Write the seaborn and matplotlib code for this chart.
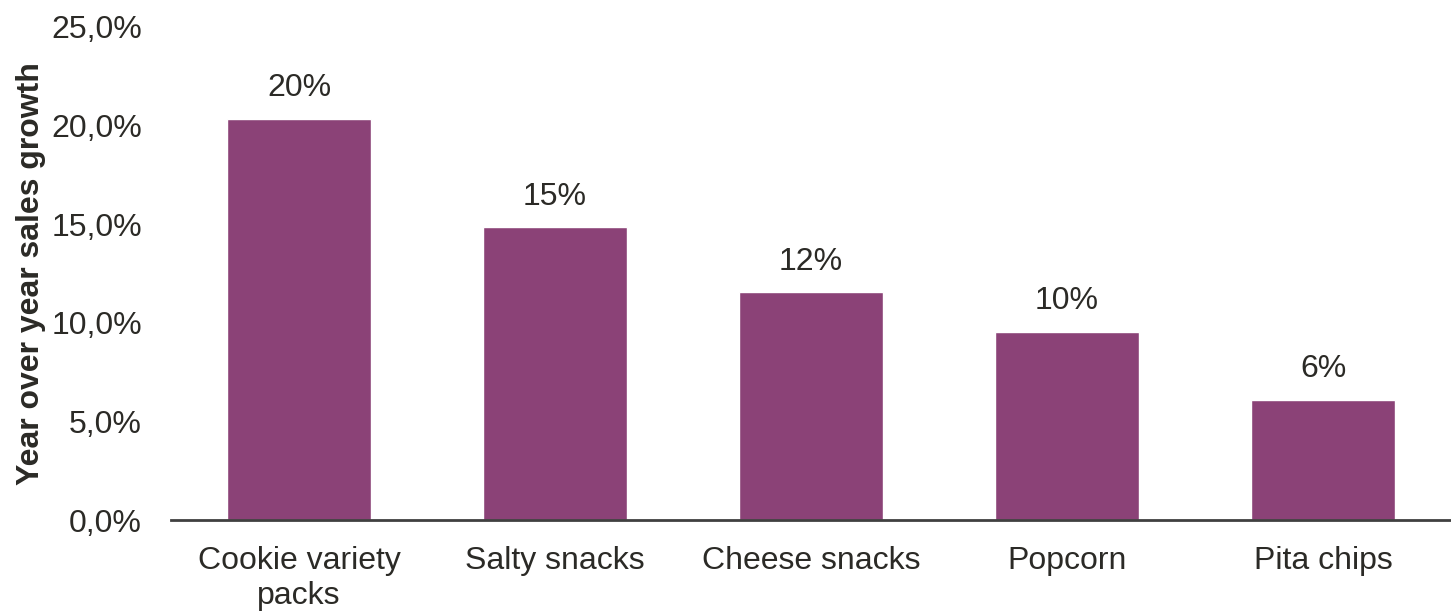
import pandas as pd
import matplotlib.pyplot as plt
import seaborn as sns

# ----------------------------
# DATA
# ----------------------------
categories = ["Cookie variety\npacks", "Salty snacks", "Cheese snacks", "Popcorn", "Pita chips"]
growth = [20.35, 14.85, 11.55, 9.55, 6.1]
bar_labels = ["20%", "15%", "12%", "10%", "6%"]
y_ticks = [0, 5, 10, 15, 20, 25]
y_tick_labels = ["0,0%", "5,0%", "10,0%", "15,0%", "20,0%", "25,0%"]

df = pd.DataFrame({"category": categories, "growth": growth})

# ----------------------------
# STYLE
# ----------------------------
sns.set_style("white")
plt.rcParams['font.family'] = ['Liberation Sans', 'DejaVu Sans']
text_color = "#2b2a26"
bar_color = "#8b4277"

fig = plt.figure(figsize=(14.51, 6.11), dpi=100)
ax = fig.add_axes([171 / 1451, 91 / 611, 1 - 171 / 1451, 493 / 611])

sns.barplot(data=df, x="category", y="growth", color=bar_color,
            width=0.56, saturation=1, ax=ax)

# value labels above bars
for patch, lab in zip(ax.patches, bar_labels):
    ax.annotate(lab, (patch.get_x() + patch.get_width() / 2, patch.get_height()),
                xytext=(0, 11), textcoords="offset points",
                ha="center", va="bottom", fontsize=23, color=text_color)

ax.set_ylim(0, 25)
ax.set_xlim(-0.5, 4.5)
ax.set_yticks(y_ticks)
ax.set_yticklabels(y_tick_labels)
ax.tick_params(axis="y", length=0, pad=21, labelsize=23, labelcolor=text_color)
ax.tick_params(axis="x", length=0, pad=19, labelsize=23, labelcolor=text_color)
for lab in ax.get_xticklabels():
    lab.set_linespacing(1.2)

ax.set_xlabel("")
ax.set_ylabel("Year over year sales growth", fontsize=23, fontweight="bold",
              color=text_color)
ax.yaxis.set_label_coords(-0.098, 0.5)

for side in ["top", "right", "left"]:
    ax.spines[side].set_visible(False)
ax.spines["bottom"].set_color("#404040")
ax.spines["bottom"].set_linewidth(2)

plt.savefig("out.png", dpi=100)
